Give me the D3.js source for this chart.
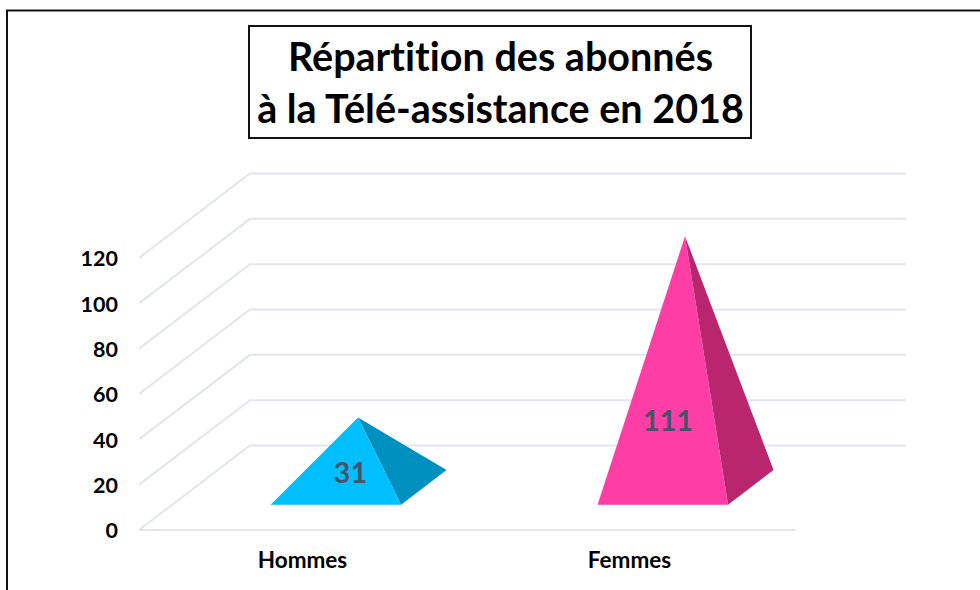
<!DOCTYPE html>
<html>
<head>
<meta charset="utf-8">
<script src="https://cdn.jsdelivr.net/npm/d3@7"></script>
<style>
html, body { margin: 0; padding: 0; background: #fff; overflow: hidden; }
svg { display: block; }
text { font-family: Lato, "Open Sans", sans-serif; font-weight: 700; font-variant-ligatures: none; }
</style>
</head>
<body>
<div id="chart"></div>
<script>
const categories = ['Hommes', 'Femmes'];
const values = [31, 111];
const colors = ['#00bfff', '#ff3ea5'];
const sideColors = ['#0090c0', '#b9266d'];
const yTicks = [0, 20, 40, 60, 80, 100, 120];
const titleLines = ['Répartition des abonnés', 'à la Télé-assistance en 2018'];

const width = 980, height = 590;
const gridLeft = 139, gridRight = 795;

const svg = d3.select('#chart').append('svg')
    .attr('width', width)
    .attr('height', height);

// outer frame, open on the right and bottom
svg.append('path')
    .attr('d', d3.line()([[7, height], [7, 10.5], [width, 10.5]]))
    .attr('fill', 'none')
    .attr('stroke', '#111')
    .attr('stroke-width', 2);

// front plane scales + a depth scale for the fake 3d
const x = d3.scaleBand().domain(categories).range([gridLeft, gridRight - 2]);
const y = d3.scaleLinear().domain([0, 120]).range([530, 258]);
const depthX = d3.scaleLinear().domain([0, 1]).range([0, 111]);
const depthY = d3.scaleLinear().domain([0, 1]).range([0, -84.5]);

// project a point: band offset, value, depth
const project = (px, value, depth) => [px + depthX(depth), y(value) + depthY(depth)];

const grid = svg.append('g').attr('fill', 'none').attr('stroke', '#e2e5eb').attr('stroke-width', 2);

grid.selectAll('path').data(yTicks).join('path')
    .attr('d', d => {
        const pts = [project(gridLeft, d, 0), project(gridLeft, d, 1), project(gridRight, d, 1)];
        return d3.line()(pts);
    });

// floor front edge
grid.append('path')
    .attr('d', d3.line()([project(gridLeft, 0, 0), project(gridRight, 0, 0)]));

// y axis labels
const yAxis = d3.axisLeft(y).tickValues(yTicks).tickSize(0).tickPadding(0);
svg.append('g')
    .attr('transform', 'translate(118,1)')
    .call(yAxis)
    .call(g => g.select('.domain').remove())
    .selectAll('text')
    .attr('fill', '#000')
    .style('font-family', 'Lato, "Open Sans", sans-serif')
    .style('font-size', '21.5px')
    .style('font-weight', 700);

// pyramids
const baseWidth = 130.5;
const rows = categories.map((c, i) => ({ c, value: values[i], color: colors[i], side: sideColors[i] }));

const marks = svg.selectAll('g.pyramid').data(rows).join('g').attr('class', 'pyramid');

marks.each(function (d) {
    const g = d3.select(this);
    const cx = x(d.c) + x.bandwidth() / 2;
    const frontL = project(cx - baseWidth / 2, 0, 0.3);
    const frontR = project(cx + baseWidth / 2, 0, 0.3);
    const backR = project(cx + baseWidth / 2, 0, 0.71);
    const apex = project(cx, d.value, 0.5);
    const h = frontL[1] - apex[1];

    g.append('path')
        .attr('d', d3.line()([frontR, backR, apex]) + 'Z')
        .attr('fill', d.side);
    g.append('path')
        .attr('d', d3.line()([frontL, frontR, apex]) + 'Z')
        .attr('fill', d.color);

    // data label, drifts left and up as the pyramid gets taller
    g.append('text')
        .attr('x', cx + 52.5 - 0.0525 * h)
        .attr('y', frontL[1] - 6.3 - 0.287 * h + 10)
        .attr('text-anchor', 'middle')
        .attr('fill', '#44546a')
        .style('font-size', '29px')
        .text(d.value);
});

// category labels
svg.selectAll('text.cat').data(categories).join('text')
    .attr('class', 'cat')
    .attr('x', d => x(d) + x.bandwidth() / 2)
    .attr('y', 568)
    .attr('text-anchor', 'middle')
    .attr('fill', '#000')
    .style('font-size', '22.5px')
    .text(d => d);

// title box
svg.append('rect')
    .attr('x', 249)
    .attr('y', 26)
    .attr('width', 502)
    .attr('height', 112)
    .attr('fill', '#fff')
    .attr('stroke', '#111')
    .attr('stroke-width', 2);

svg.selectAll('text.title').data(titleLines).join('text')
    .attr('class', 'title')
    .attr('x', 500.5)
    .attr('y', (d, i) => 71 + i * 52)
    .attr('text-anchor', 'middle')
    .attr('fill', '#000')
    .style('font-size', '39.5px')
    .text(d => d);
</script>
</body>
</html>
